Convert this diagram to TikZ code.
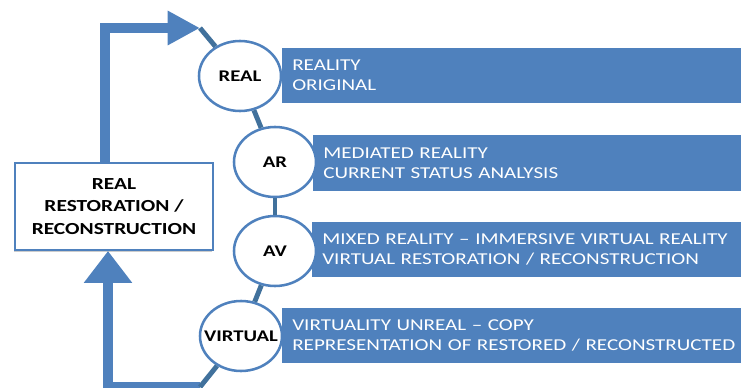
\documentclass[tikz,border=0pt]{standalone}
\usepackage{xcolor}
\definecolor{4f81bd}{HTML}{4f81bd}
\definecolor{41719c}{HTML}{41719c}
\usepackage{fontspec}
\setmainfont{Carlito}[FakeStretch=1.27]
\usepackage{tikz}
\usetikzlibrary{shapes.geometric}
\usetikzlibrary{arrows.meta}
\usetikzlibrary{shadows}

\begin{document}
\begin{tikzpicture}[x=0.025cm, y=-0.025cm,
            stage/.style={ellipse, draw=4f81bd, line width=1.8pt, fill=white, minimum width=2.05cm, minimum height=1.75cm, inner xsep=-8pt, inner ysep=0pt, font=\fontsize{11.6}{14}\selectfont\bfseries},
            band/.style={rectangle, fill=4f81bd, text=white, anchor=west, minimum height=1.375cm, inner xsep=0.25cm, text width=12.5cm, align=left, font=\fontsize{11.8}{14}\selectfont},
            link/.style={draw=41719c, line width=3.5pt},
            bigarrow/.style={draw=4f81bd, line width=7pt}]
            \useasboundingbox (0,0) rectangle (741,387);
            \clip (0,0) rectangle (741,387);

            \node[band] (bandReal) at (282,75.5) {REALITY\\ORIGINAL};
            \node[band] (bandAr) at (313,163) {MEDIATED REALITY\\CURRENT STATUS ANALYSIS};
            \node[band] (bandAv) at (312,249.5) {MIXED REALITY -- IMMERSIVE VIRTUAL REALITY\\VIRTUAL RESTORATION / RECONSTRUCTION};
            \node[band] (bandVirtual) at (282,335.5) {VIRTUALITY UNREAL -- COPY\\REPRESENTATION OF RESTORED / RECONSTRUCTED};

            \node[stage] (real) at (240,76) {REAL};
            \node[stage] (ar) at (275,162) {AR};
            \node[stage] (av) at (275,251) {AV};
            \node[stage] (virtual) at (241,336) {VIRTUAL};

            \node[draw=4f81bd, line width=1.4pt, fill=white, drop shadow={shadow xshift=-0.8pt, shadow yshift=-1.2pt, opacity=0.4},
                minimum width=4.95cm, minimum height=2.175cm, align=center,
                font=\fontsize{12}{16}\selectfont\bfseries] (restore) at (114,206.5) {REAL\\RESTORATION /\\RECONSTRUCTION};

            \coordinate (tipT) at (200,28);
            \coordinate (cornerB) at (200,387);

            \draw[bigarrow, -{Triangle[length=23pt, width=23pt]}] ([xshift=-0.225cm]restore.north) |- (tipT);
            \draw[bigarrow, -{Triangle[length=22.7pt, width=33pt]}] (cornerB) -| ([xshift=-0.15cm]restore.south);

            \draw[link] (real) -- (tipT);
            \draw[link] (real) -- (ar);
            \draw[link] (ar) -- (av);
            \draw[link] (av) -- (virtual);
            \draw[link] (virtual) -- (cornerB);
        \end{tikzpicture}
\end{document}
